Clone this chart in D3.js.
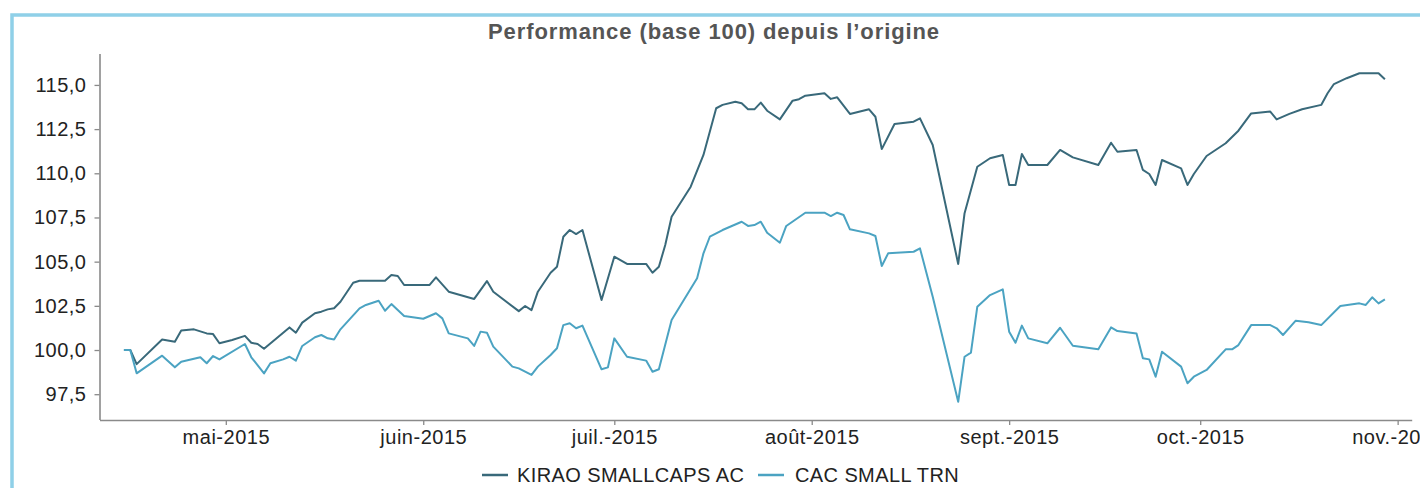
<!DOCTYPE html>
<html>
<head>
<meta charset="utf-8">
<script src="https://cdn.jsdelivr.net/npm/d3@7"></script>
<style>
  html, body { margin: 0; padding: 0; background: #fff; overflow: hidden; }
  svg { display: block; font-family: "Liberation Sans", Arial, sans-serif; }
</style>
</head>
<body>
<svg width="1420" height="488"></svg>
<script>
// Séries (date, valeur base 100)
const kirao = [
    ["2015-04-15", 100.0], ["2015-04-16", 100.0], ["2015-04-17", 99.2], ["2015-04-21", 100.6],
    ["2015-04-23", 100.47], ["2015-04-24", 101.1], ["2015-04-26", 101.17], ["2015-04-28", 100.94],
    ["2015-04-29", 100.9], ["2015-04-30", 100.38], ["2015-05-02", 100.57], ["2015-05-04", 100.8],
    ["2015-05-05", 100.41], ["2015-05-06", 100.34], ["2015-05-07", 100.07], ["2015-05-11", 101.28],
    ["2015-05-12", 100.98], ["2015-05-13", 101.55], ["2015-05-15", 102.08], ["2015-05-16", 102.17],
    ["2015-05-17", 102.3], ["2015-05-18", 102.36], ["2015-05-19", 102.73], ["2015-05-21", 103.81],
    ["2015-05-22", 103.92], ["2015-05-26", 103.92], ["2015-05-27", 104.24], ["2015-05-28", 104.19],
    ["2015-05-29", 103.68], ["2015-06-02", 103.68], ["2015-06-03", 104.11], ["2015-06-05", 103.3],
    ["2015-06-09", 102.89], ["2015-06-11", 103.9], ["2015-06-12", 103.3], ["2015-06-16", 102.2],
    ["2015-06-17", 102.49], ["2015-06-18", 102.26], ["2015-06-19", 103.3], ["2015-06-21", 104.37],
    ["2015-06-22", 104.71], ["2015-06-23", 106.41], ["2015-06-24", 106.79], ["2015-06-25", 106.56],
    ["2015-06-26", 106.79], ["2015-06-29", 102.83], ["2015-07-01", 105.28], ["2015-07-03", 104.87],
    ["2015-07-06", 104.87], ["2015-07-07", 104.37], ["2015-07-08", 104.71], ["2015-07-09", 105.94],
    ["2015-07-10", 107.54], ["2015-07-13", 109.24], ["2015-07-15", 111.04], ["2015-07-17", 113.68],
    ["2015-07-18", 113.87], ["2015-07-20", 114.05], ["2015-07-21", 113.96], ["2015-07-22", 113.62],
    ["2015-07-23", 113.62], ["2015-07-24", 114.0], ["2015-07-25", 113.54], ["2015-07-27", 113.05],
    ["2015-07-29", 114.11], ["2015-07-30", 114.19], ["2015-07-31", 114.39], ["2015-08-03", 114.53],
    ["2015-08-04", 114.21], ["2015-08-05", 114.3], ["2015-08-07", 113.36], ["2015-08-10", 113.62],
    ["2015-08-11", 113.2], ["2015-08-12", 111.37], ["2015-08-14", 112.79], ["2015-08-17", 112.92],
    ["2015-08-18", 113.11], ["2015-08-20", 111.6], ["2015-08-24", 104.87], ["2015-08-25", 107.74],
    ["2015-08-27", 110.37], ["2015-08-29", 110.85], ["2015-08-31", 111.04], ["2015-09-01", 109.34],
    ["2015-09-02", 109.34], ["2015-09-03", 111.09], ["2015-09-04", 110.47], ["2015-09-07", 110.47],
    ["2015-09-09", 111.32], ["2015-09-11", 110.9], ["2015-09-15", 110.47], ["2015-09-17", 111.73],
    ["2015-09-18", 111.22], ["2015-09-21", 111.32], ["2015-09-22", 110.19], ["2015-09-23", 109.96],
    ["2015-09-24", 109.34], ["2015-09-25", 110.75], ["2015-09-28", 110.28], ["2015-09-29", 109.34],
    ["2015-09-30", 109.96], ["2015-10-02", 110.98], ["2015-10-05", 111.7], ["2015-10-07", 112.41],
    ["2015-10-09", 113.39], ["2015-10-12", 113.49], ["2015-10-13", 113.05], ["2015-10-15", 113.36],
    ["2015-10-17", 113.62], ["2015-10-20", 113.87], ["2015-10-21", 114.53], ["2015-10-22", 115.05],
    ["2015-10-24", 115.38], ["2015-10-26", 115.66], ["2015-10-29", 115.66], ["2015-10-30", 115.32]
];

const cacSmall = [
    ["2015-04-15", 100.0], ["2015-04-16", 100.0], ["2015-04-17", 98.68], ["2015-04-21", 99.68],
    ["2015-04-23", 99.02], ["2015-04-24", 99.34], ["2015-04-27", 99.59], ["2015-04-28", 99.25],
    ["2015-04-29", 99.66], ["2015-04-30", 99.47], ["2015-05-04", 100.34], ["2015-05-05", 99.59],
    ["2015-05-07", 98.68], ["2015-05-08", 99.25], ["2015-05-10", 99.47], ["2015-05-11", 99.62],
    ["2015-05-12", 99.4], ["2015-05-13", 100.23], ["2015-05-15", 100.72], ["2015-05-16", 100.85],
    ["2015-05-17", 100.66], ["2015-05-18", 100.6], ["2015-05-19", 101.17], ["2015-05-22", 102.36],
    ["2015-05-23", 102.55], ["2015-05-25", 102.79], ["2015-05-26", 102.22], ["2015-05-27", 102.6],
    ["2015-05-29", 101.92], ["2015-06-01", 101.77], ["2015-06-03", 102.08], ["2015-06-04", 101.79],
    ["2015-06-05", 100.94], ["2015-06-08", 100.66], ["2015-06-09", 100.23], ["2015-06-10", 101.04],
    ["2015-06-11", 100.98], ["2015-06-12", 100.19], ["2015-06-15", 99.06], ["2015-06-16", 98.96],
    ["2015-06-18", 98.59], ["2015-06-19", 99.06], ["2015-06-21", 99.72], ["2015-06-22", 100.1],
    ["2015-06-23", 101.41], ["2015-06-24", 101.51], ["2015-06-25", 101.23], ["2015-06-26", 101.38],
    ["2015-06-29", 98.91], ["2015-06-30", 99.02], ["2015-07-01", 100.66], ["2015-07-03", 99.62],
    ["2015-07-06", 99.4], ["2015-07-07", 98.77], ["2015-07-08", 98.91], ["2015-07-10", 101.7],
    ["2015-07-14", 104.06], ["2015-07-15", 105.47], ["2015-07-16", 106.41], ["2015-07-18", 106.79],
    ["2015-07-21", 107.26], ["2015-07-22", 107.02], ["2015-07-23", 107.07], ["2015-07-24", 107.26],
    ["2015-07-25", 106.64], ["2015-07-27", 106.07], ["2015-07-28", 107.02], ["2015-07-31", 107.77],
    ["2015-08-03", 107.77], ["2015-08-04", 107.58], ["2015-08-05", 107.77], ["2015-08-06", 107.64],
    ["2015-08-07", 106.83], ["2015-08-10", 106.6], ["2015-08-11", 106.45], ["2015-08-12", 104.75],
    ["2015-08-13", 105.47], ["2015-08-17", 105.56], ["2015-08-18", 105.75], ["2015-08-20", 103.02],
    ["2015-08-24", 97.07], ["2015-08-25", 99.62], ["2015-08-26", 99.85], ["2015-08-27", 102.45],
    ["2015-08-29", 103.11], ["2015-08-31", 103.43], ["2015-09-01", 101.04], ["2015-09-02", 100.41],
    ["2015-09-03", 101.38], ["2015-09-04", 100.66], ["2015-09-07", 100.38], ["2015-09-09", 101.26],
    ["2015-09-11", 100.24], ["2015-09-15", 100.04], ["2015-09-17", 101.28], ["2015-09-18", 101.07],
    ["2015-09-21", 100.94], ["2015-09-22", 99.53], ["2015-09-23", 99.47], ["2015-09-24", 98.49],
    ["2015-09-25", 99.9], ["2015-09-28", 99.06], ["2015-09-29", 98.12], ["2015-09-30", 98.49],
    ["2015-10-02", 98.87], ["2015-10-05", 100.04], ["2015-10-06", 100.04], ["2015-10-07", 100.28],
    ["2015-10-09", 101.41], ["2015-10-12", 101.41], ["2015-10-13", 101.23], ["2015-10-14", 100.85],
    ["2015-10-16", 101.66], ["2015-10-18", 101.57], ["2015-10-20", 101.41], ["2015-10-23", 102.49],
    ["2015-10-26", 102.64], ["2015-10-27", 102.55], ["2015-10-28", 102.98], ["2015-10-29", 102.64],
    ["2015-10-30", 102.87]
];

const seriesNames = ["KIRAO SMALLCAPS AC", "CAC SMALL TRN"];
const yTicks = [97.5, 100, 102.5, 105, 107.5, 110, 112.5, 115];
const monthLabels = ["mai-2015", "juin-2015", "juil.-2015", "août-2015", "sept.-2015", "oct.-2015", "nov.-2015"];

const W = 1420, H = 488;
const LEFT = 99.5, RIGHT = 1411.7, TOP = 54, BOTTOM = 420;
const COLORS = ["#39697a", "#4ba3c2"];
const AXIS = "#8a8a8a", TEXT = "#222";

const parse = d3.utcParse("%Y-%m-%d");
const series = [kirao, cacSmall].map(s => s.map(d => ({date: parse(d[0]), value: d[1]})));

const svg = d3.select("svg");

// cadre bleu
svg.append("rect")
    .attr("x", 12).attr("y", 15)
    .attr("width", W).attr("height", H)
    .attr("fill", "none")
    .attr("stroke", "#8fd0e8")
    .attr("stroke-width", 3.5);

const x = d3.scaleUtc()
    .domain([new Date(Date.UTC(2015, 3, 11, 4)), new Date(Date.UTC(2015, 10, 3, 5))])
    .range([LEFT, RIGHT]);

const y = d3.scaleLinear()
    .domain([96.04, 116.75])
    .range([BOTTOM, TOP]);

// titre
svg.append("text")
    .attr("x", 714).attr("y", 39)
    .attr("text-anchor", "middle")
    .attr("font-size", 22)
    .attr("letter-spacing", 0.9)
    .attr("font-weight", "bold")
    .attr("fill", "#555")
    .text("Performance (base 100) depuis l\u2019origine");

// axe Y
const fmt = d3.formatLocale({decimal: ",", thousands: " ", grouping: [3], currency: ["", "€"]}).format(".1f");
const yAxis = svg.append("g")
    .attr("transform", `translate(${LEFT},0)`)
    .call(d3.axisLeft(y).tickValues(yTicks).tickFormat(fmt).tickSize(5).tickPadding(8).tickSizeOuter(0));

// axe X
const months = d3.utcMonth.range(new Date(Date.UTC(2015, 4, 1)), new Date(Date.UTC(2015, 10, 2)));
const xAxis = svg.append("g")
    .attr("transform", `translate(0,${BOTTOM})`)
    .call(d3.axisBottom(x).tickValues(months).tickFormat((d, i) => monthLabels[i]).tickSize(5).tickPadding(5).tickSizeOuter(0));

[yAxis, xAxis].forEach(function (g) {
    g.select(".domain").attr("stroke", AXIS).attr("stroke-width", 1.6);
    g.selectAll(".tick line").attr("stroke", AXIS).attr("stroke-width", 1.3);
    g.selectAll(".tick text")
        .attr("fill", TEXT)
        .attr("font-size", 20)
        .attr("letter-spacing", 0.5)
        .attr("font-family", "Liberation Sans, Arial, sans-serif");
});
yAxis.select(".domain").attr("d", `M0.5,${TOP}V${BOTTOM}`);

// courbes
const line = d3.line().x(d => x(d.date)).y(d => y(d.value));
series.forEach(function (s, i) {
    svg.append("path")
        .datum(s)
        .attr("d", line)
        .attr("fill", "none")
        .attr("stroke", COLORS[i])
        .attr("stroke-width", 2)
        .attr("stroke-linejoin", "round");
});

// légende
const legend = [[482, 517], [758, 795]];
seriesNames.forEach(function (name, i) {
    svg.append("line")
        .attr("x1", legend[i][0]).attr("x2", legend[i][0] + 26)
        .attr("y1", 475).attr("y2", 475)
        .attr("stroke", COLORS[i])
        .attr("stroke-width", 2.5);
    svg.append("text")
        .attr("x", legend[i][1]).attr("y", 482)
        .attr("font-size", 20)
        .attr("letter-spacing", 0.4)
        .attr("fill", TEXT)
        .text(name);
});
</script>
</body>
</html>
